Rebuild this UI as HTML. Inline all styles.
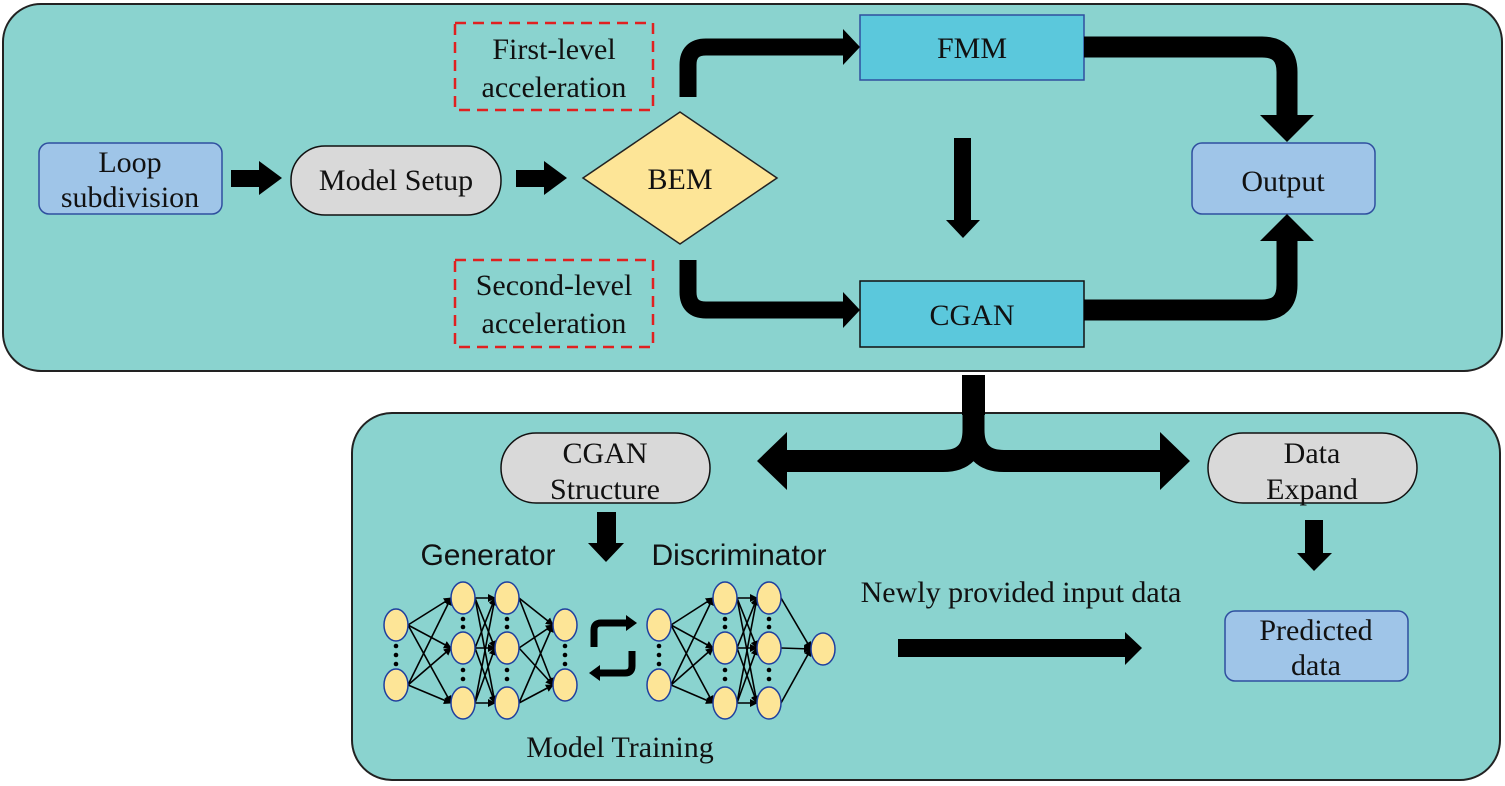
<!DOCTYPE html>
<html><head><meta charset="utf-8"><style>
html,body{margin:0;padding:0;background:#fff;}
svg{display:block;}
.s{font-family:"Liberation Serif",serif;font-size:30px;fill:#111;}
.a{font-family:"Liberation Sans",sans-serif;font-size:30px;fill:#111;}
</style></head><body>
<svg width="1505" height="786" viewBox="0 0 1505 786" xmlns="http://www.w3.org/2000/svg">
<defs>
<marker id="m" markerWidth="8" markerHeight="8" refX="7" refY="4" orient="auto" markerUnits="userSpaceOnUse"><path d="M0,0 L8,4 L0,8z" fill="#000"/></marker>
</defs>
<rect x="3" y="4" width="1499" height="367" rx="38" fill="#8ad3cf" stroke="#222" stroke-width="2"/>
<rect x="352" y="413" width="1148" height="367" rx="40" fill="#8ad3cf" stroke="#222" stroke-width="2"/>

<rect x="39" y="143" width="183" height="71" rx="10" fill="#9fc5e8" stroke="#2f4f9f" stroke-width="1.5"/>
<text class="s" x="130" y="172" text-anchor="middle">Loop</text>
<text class="s" x="130" y="207" text-anchor="middle">subdivision</text>
<rect x="291" y="146" width="210" height="69" rx="34" fill="#d9d9d9" stroke="#111" stroke-width="1.5"/>
<text class="s" x="396" y="190" text-anchor="middle">Model Setup</text>
<polygon points="583,178 680,112 777,178 680,244" fill="#fde597" stroke="#222" stroke-width="1.5"/>
<text class="s" x="680" y="189" text-anchor="middle">BEM</text>
<rect x="455" y="23" width="198" height="87" fill="none" stroke="#e02020" stroke-width="2.5" stroke-dasharray="11,7"/>
<text class="s" x="554" y="59" text-anchor="middle">First-level</text>
<text class="s" x="554" y="97" text-anchor="middle">acceleration</text>
<rect x="455" y="260" width="198" height="87" fill="none" stroke="#e02020" stroke-width="2.5" stroke-dasharray="11,7"/>
<text class="s" x="554" y="295" text-anchor="middle">Second-level</text>
<text class="s" x="554" y="333" text-anchor="middle">acceleration</text>
<rect x="860" y="15" width="224" height="65" fill="#5bc8dc" stroke="#2f4f9f" stroke-width="1.5"/>
<text class="s" x="972" y="58" text-anchor="middle">FMM</text>
<rect x="860" y="281" width="224" height="66" fill="#5bc8dc" stroke="#111" stroke-width="1.5"/>
<text class="s" x="972" y="325" text-anchor="middle">CGAN</text>
<rect x="1192" y="143" width="183" height="71" rx="10" fill="#9fc5e8" stroke="#2f4f9f" stroke-width="1.5"/>
<text class="s" x="1283" y="191" text-anchor="middle">Output</text>

<rect x="231" y="170" width="30" height="17" fill="#000"/><polygon points="259,161 282,178 259,195" fill="#000"/>
<rect x="516" y="170" width="30" height="17" fill="#000"/><polygon points="544,161 567,178 544,195" fill="#000"/>
<path d="M688,97 V65 Q688,47 706,47 H845" fill="none" stroke="#000" stroke-width="17"/>
<polygon points="843,29 860,47 843,65" fill="#000"/>
<path d="M688,260 V292 Q688,310 706,310 H845" fill="none" stroke="#000" stroke-width="17"/>
<polygon points="843,292 860,310 843,328" fill="#000"/>
<rect x="954" y="138" width="17" height="82" fill="#000"/><polygon points="946,220 980,220 963,238" fill="#000"/>
<path d="M1084,47 H1262 Q1287,47 1287,72 V118" fill="none" stroke="#000" stroke-width="21"/>
<polygon points="1260,115 1314,115 1287,142" fill="#000"/>
<path d="M1084,310 H1262 Q1287,310 1287,285 V238" fill="none" stroke="#000" stroke-width="21"/>
<polygon points="1260,241 1314,241 1287,214" fill="#000"/>

<rect x="962" y="375" width="23" height="40" fill="#000"/>
<path d="M973.5,412 V430 Q973.5,461 943,461 H785" fill="none" stroke="#000" stroke-width="22"/>
<path d="M973.5,412 V430 Q973.5,461 1004,461 H1162" fill="none" stroke="#000" stroke-width="22"/>
<polygon points="787,432 757,461 787,490" fill="#000"/>
<polygon points="1160,432 1190,461 1160,490" fill="#000"/>

<rect x="501" y="433" width="209" height="70" rx="35" fill="#d9d9d9" stroke="#111" stroke-width="1.5"/>
<text class="s" x="605" y="463" text-anchor="middle">CGAN</text>
<text class="s" x="605" y="499" text-anchor="middle">Structure</text>
<rect x="1208" y="433" width="209" height="70" rx="35" fill="#d9d9d9" stroke="#111" stroke-width="1.5"/>
<text class="s" x="1312" y="463" text-anchor="middle">Data</text>
<text class="s" x="1312" y="499" text-anchor="middle">Expand</text>
<rect x="597" y="512" width="19" height="33" fill="#000"/><polygon points="588,543 624,543 606,562" fill="#000"/>
<rect x="1305" y="520" width="18" height="35" fill="#000"/><polygon points="1297,553 1332,553 1314,571" fill="#000"/>
<text class="a" x="488" y="565" text-anchor="middle">Generator</text>
<text class="a" x="739" y="565" text-anchor="middle">Discriminator</text>
<text class="s" x="1021" y="602" text-anchor="middle">Newly provided input data</text>
<rect x="898" y="639" width="230" height="18" fill="#000"/><polygon points="1125,632 1142,648 1125,665" fill="#000"/>
<rect x="1225" y="611" width="183" height="70" rx="10" fill="#9fc5e8" stroke="#2f4f9f" stroke-width="1.5"/>
<text class="s" x="1316" y="640" text-anchor="middle">Predicted</text>
<text class="s" x="1316" y="675" text-anchor="middle">data</text>
<text class="s" x="620" y="757" text-anchor="middle">Model Training</text>

<path d="M594,647 V630 Q594,623 601,623 H628" fill="none" stroke="#000" stroke-width="7"/>
<polygon points="626,615 637,623 626,631" fill="#000"/>
<path d="M632,651 V666 Q632,673 625,673 H598" fill="none" stroke="#000" stroke-width="7"/>
<polygon points="600,665 589,673 600,681" fill="#000"/>

<g stroke="#000" stroke-width="1.6" fill="none" marker-end="url(#m)">
<path d="M408,625 L451,598"/><path d="M408,625 L451,648"/><path d="M408,625 L451,703"/>
<path d="M408,685 L451,598"/><path d="M408,685 L451,648"/><path d="M408,685 L451,703"/>
<path d="M475,598 L495,598"/><path d="M475,598 L495,648"/><path d="M475,598 L495,703"/>
<path d="M475,648 L495,598"/><path d="M475,648 L495,648"/><path d="M475,648 L495,703"/>
<path d="M475,703 L495,598"/><path d="M475,703 L495,648"/><path d="M475,703 L495,703"/>
<path d="M519,598 L553,625"/><path d="M519,598 L553,685"/>
<path d="M519,648 L553,625"/><path d="M519,648 L553,685"/>
<path d="M519,703 L553,625"/><path d="M519,703 L553,685"/>
<path d="M671,625 L713,598"/><path d="M671,625 L713,648"/><path d="M671,625 L713,703"/>
<path d="M671,685 L713,598"/><path d="M671,685 L713,648"/><path d="M671,685 L713,703"/>
<path d="M737,598 L757,598"/><path d="M737,598 L757,648"/><path d="M737,598 L757,703"/>
<path d="M737,648 L757,598"/><path d="M737,648 L757,648"/><path d="M737,648 L757,703"/>
<path d="M737,703 L757,598"/><path d="M737,703 L757,648"/><path d="M737,703 L757,703"/>
<path d="M781,598 L811,649"/><path d="M781,648 L811,649"/><path d="M781,703 L811,649"/>
</g>
<g fill="#fde597" stroke="#1f3f9f" stroke-width="1.5">
<ellipse cx="396" cy="625" rx="12" ry="16"/><ellipse cx="396" cy="685" rx="12" ry="16"/>
<ellipse cx="463" cy="598" rx="12" ry="16"/><ellipse cx="463" cy="648" rx="12" ry="16"/><ellipse cx="463" cy="703" rx="12" ry="16"/>
<ellipse cx="507" cy="598" rx="12" ry="16"/><ellipse cx="507" cy="648" rx="12" ry="16"/><ellipse cx="507" cy="703" rx="12" ry="16"/>
<ellipse cx="565" cy="625" rx="12" ry="16"/><ellipse cx="565" cy="685" rx="12" ry="16"/>
<ellipse cx="659" cy="625" rx="12" ry="16"/><ellipse cx="659" cy="685" rx="12" ry="16"/>
<ellipse cx="725" cy="598" rx="12" ry="16"/><ellipse cx="725" cy="648" rx="12" ry="16"/><ellipse cx="725" cy="703" rx="12" ry="16"/>
<ellipse cx="769" cy="598" rx="12" ry="16"/><ellipse cx="769" cy="648" rx="12" ry="16"/><ellipse cx="769" cy="703" rx="12" ry="16"/>
<ellipse cx="823" cy="649" rx="12" ry="16"/>
</g>
<g fill="#000">
<circle cx="396" cy="646" r="2.3"/><circle cx="396" cy="655" r="2.3"/><circle cx="396" cy="664" r="2.3"/>
<circle cx="565" cy="646" r="2.3"/><circle cx="565" cy="655" r="2.3"/><circle cx="565" cy="664" r="2.3"/>
<circle cx="659" cy="646" r="2.3"/><circle cx="659" cy="655" r="2.3"/><circle cx="659" cy="664" r="2.3"/>
<circle cx="463" cy="619" r="2.3"/><circle cx="463" cy="627" r="2.3"/><circle cx="463" cy="670" r="2.3"/><circle cx="463" cy="679" r="2.3"/>
<circle cx="507" cy="619" r="2.3"/><circle cx="507" cy="627" r="2.3"/><circle cx="507" cy="670" r="2.3"/><circle cx="507" cy="679" r="2.3"/>
<circle cx="725" cy="619" r="2.3"/><circle cx="725" cy="627" r="2.3"/><circle cx="725" cy="670" r="2.3"/><circle cx="725" cy="679" r="2.3"/>
<circle cx="769" cy="619" r="2.3"/><circle cx="769" cy="627" r="2.3"/><circle cx="769" cy="670" r="2.3"/><circle cx="769" cy="679" r="2.3"/>
</g>
</svg>
</body></html>
